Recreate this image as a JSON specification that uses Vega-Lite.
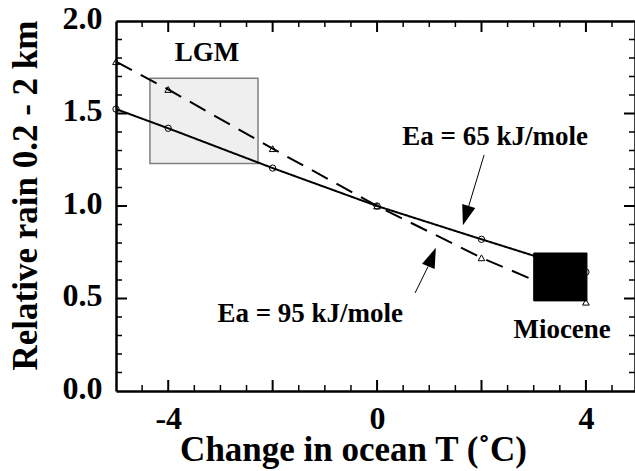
{
  "$schema": "https://vega.github.io/schema/vega-lite/v6.json",
  "autosize": "none",
  "padding": {"left": 116, "top": 21, "right": 0, "bottom": 80},
  "width": 519,
  "height": 370,
  "background": "white",
  "datasets": {
    "curves": [
      {"t": -5, "rain": 1.524, "series": "Ea65"},
      {"t": -4, "rain": 1.42, "series": "Ea65"},
      {"t": -2, "rain": 1.205, "series": "Ea65"},
      {"t": 0, "rain": 1.0, "series": "Ea65"},
      {"t": 2, "rain": 0.82, "series": "Ea65"},
      {"t": 4, "rain": 0.643, "series": "Ea65"},
      {"t": -5, "rain": 1.78, "series": "Ea95"},
      {"t": -4, "rain": 1.63, "series": "Ea95"},
      {"t": -2, "rain": 1.31, "series": "Ea95"},
      {"t": 0, "rain": 1.0, "series": "Ea95"},
      {"t": 2, "rain": 0.72, "series": "Ea95"},
      {"t": 4, "rain": 0.48, "series": "Ea95"}
    ],
    "boxes": [
      {"name": "LGM", "x1": -4.35, "x2": -2.28, "y1": 1.23, "y2": 1.69},
      {"name": "Miocene", "x1": 3.0, "x2": 4.02, "y1": 0.487, "y2": 0.746}
    ],
    "labels": [
      {"text": "LGM", "x": -3.257, "y": 1.784},
      {"text": "Ea = 65 kJ/mole", "x": 2.26, "y": 1.33},
      {"text": "Ea = 95 kJ/mole", "x": -1.28, "y": 0.373},
      {"text": "Miocene", "x": 3.544, "y": 0.286}
    ],
    "arrows": [
      {"x": 2.05, "y": 1.276, "x2": 1.753, "y2": 0.997, "hx": 1.70, "hy": 0.948, "angle": 197},
      {"x": 0.728, "y": 0.53, "x2": 0.977, "y2": 0.673, "hx": 1.054, "hy": 0.724, "angle": 22}
    ],
    "xmajor": [{"v": -4}, {"v": -2}, {"v": 0}, {"v": 2}, {"v": 4}],
    "xminor": [{"v": -4.5}, {"v": -3.5}, {"v": -3}, {"v": -2.5}, {"v": -1.5}, {"v": -1}, {"v": -0.5}, {"v": 0.5}, {"v": 1}, {"v": 1.5}, {"v": 2.5}, {"v": 3}, {"v": 3.5}, {"v": 4.5}],
    "ymajor": [{"v": 0.5}, {"v": 1}, {"v": 1.5}],
    "yminor": [{"v": 0.1}, {"v": 0.2}, {"v": 0.3}, {"v": 0.4}, {"v": 0.6}, {"v": 0.7}, {"v": 0.8}, {"v": 0.9}, {"v": 1.1}, {"v": 1.2}, {"v": 1.3}, {"v": 1.4}, {"v": 1.6}, {"v": 1.7}, {"v": 1.8}, {"v": 1.9}]
  },
  "resolve": {"axis": {"x": "independent", "y": "independent"}},
  "layer": [
    {
      "data": {"name": "boxes"},
      "transform": [{"filter": "datum.name == 'LGM'"}],
      "mark": {"type": "rect", "fill": "#efefef", "stroke": "#808080", "strokeWidth": 1.5},
      "encoding": {
        "x": {"field": "x1", "type": "quantitative", "scale": {"domain": [-5, 4.94], "nice": false, "zero": false},
          "axis": {"orient": "bottom", "values": [-4, 0, 4],
            "ticks": false, "tickSize": 0,
            "labelPadding": 37, "labelBaseline": "alphabetic",
            "labelExpr": "datum.value == -4 ? '-4' : datum.value == 0 ? '0' : '4'",
            "domain": true, "domainWidth": 2.5, "title": "Change in ocean T (˚C)",
            "titleX": 237, "titleY": 69, "titleBaseline": "alphabetic", "titleAlign": "center", "titleAnchor": null}},
        "x2": {"field": "x2"},
        "y": {"field": "y1", "type": "quantitative", "scale": {"domain": [0, 2], "nice": false, "zero": false},
          "axis": {"orient": "left", "values": [0, 0.5, 1, 1.5, 2],
            "ticks": false, "tickSize": 0,
            "labelExpr": "datum.value == 0 ? '0.0' : datum.value == 0.5 ? '0.5' : datum.value == 1 ? '1.0' : datum.value == 1.5 ? '1.5' : '2.0'",
            "labelPadding": 14, "labelBaseline": "alphabetic", "labelOffset": 7, "labelAlign": "right",
            "domain": true, "domainWidth": 2.5, "title": "Relative rain 0.2 - 2 km",
            "titleX": -80, "titleY": 174, "titleAngle": -90, "titleBaseline": "alphabetic", "titleAlign": "center", "titleAnchor": null}},
        "y2": {"field": "y2"}
      }
    },
    {
      "data": {"name": "curves"},
      "mark": {"type": "line", "color": "black", "strokeWidth": 2},
      "encoding": {
        "x": {"field": "t", "type": "quantitative",
          "axis": {"orient": "top", "values": [-4, -2, 0, 2, 4], "ticks": false, "tickSize": 0,
            "labels": false, "domain": true, "domainWidth": 2.5, "title": null}},
        "y": {"field": "rain", "type": "quantitative",
          "axis": {"orient": "right", "values": [0.5, 1, 1.5], "ticks": false, "tickSize": 0,
            "labels": false, "domain": true, "domainWidth": 2.5, "title": null}},
        "strokeDash": {"field": "series", "type": "nominal", "scale": {"domain": ["Ea65", "Ea95"], "range": [[1, 0], [18, 10]]}, "legend": null}
      }
    },
    {
      "data": {"name": "xmajor"},
      "mark": {"type": "rule", "color": "black", "strokeWidth": 2, "y2Offset": -11},
      "encoding": {
        "x": {"field": "v", "type": "quantitative", "axis": null},
        "y": {"datum": 0, "type": "quantitative", "axis": null},
        "y2": {"datum": 0}
      }
    },
    {
      "data": {"name": "xminor"},
      "mark": {"type": "rule", "color": "black", "strokeWidth": 1.5, "y2Offset": -6},
      "encoding": {
        "x": {"field": "v", "type": "quantitative", "axis": null},
        "y": {"datum": 0, "type": "quantitative", "axis": null},
        "y2": {"datum": 0}
      }
    },
    {
      "data": {"name": "xmajor"},
      "mark": {"type": "rule", "color": "black", "strokeWidth": 2, "y2Offset": 11},
      "encoding": {
        "x": {"field": "v", "type": "quantitative", "axis": null},
        "y": {"datum": 2, "type": "quantitative", "axis": null},
        "y2": {"datum": 2}
      }
    },
    {
      "data": {"name": "xminor"},
      "mark": {"type": "rule", "color": "black", "strokeWidth": 1.5, "y2Offset": 6},
      "encoding": {
        "x": {"field": "v", "type": "quantitative", "axis": null},
        "y": {"datum": 2, "type": "quantitative", "axis": null},
        "y2": {"datum": 2}
      }
    },
    {
      "data": {"name": "ymajor"},
      "mark": {"type": "rule", "color": "black", "strokeWidth": 2, "x2Offset": 11},
      "encoding": {
        "y": {"field": "v", "type": "quantitative", "axis": null},
        "x": {"datum": -5, "type": "quantitative", "axis": null},
        "x2": {"datum": -5}
      }
    },
    {
      "data": {"name": "yminor"},
      "mark": {"type": "rule", "color": "black", "strokeWidth": 1.5, "x2Offset": 6},
      "encoding": {
        "y": {"field": "v", "type": "quantitative", "axis": null},
        "x": {"datum": -5, "type": "quantitative", "axis": null},
        "x2": {"datum": -5}
      }
    },
    {
      "data": {"name": "ymajor"},
      "mark": {"type": "rule", "color": "black", "strokeWidth": 2, "x2Offset": -11},
      "encoding": {
        "y": {"field": "v", "type": "quantitative", "axis": null},
        "x": {"datum": 4.94, "type": "quantitative", "axis": null},
        "x2": {"datum": 4.94}
      }
    },
    {
      "data": {"name": "yminor"},
      "mark": {"type": "rule", "color": "black", "strokeWidth": 1.5, "x2Offset": -6},
      "encoding": {
        "y": {"field": "v", "type": "quantitative", "axis": null},
        "x": {"datum": 4.94, "type": "quantitative", "axis": null},
        "x2": {"datum": 4.94}
      }
    },
    {
      "data": {"name": "curves"},
      "transform": [{"filter": "datum.series == 'Ea65'"}],
      "mark": {"type": "point", "shape": "circle", "size": 40, "stroke": "black", "strokeWidth": 1, "filled": false, "opacity": 1},
      "encoding": {
        "x": {"field": "t", "type": "quantitative", "axis": null},
        "y": {"field": "rain", "type": "quantitative", "axis": null}
      }
    },
    {
      "data": {"name": "curves"},
      "transform": [{"filter": "datum.series == 'Ea95'"}],
      "mark": {"type": "point", "shape": "triangle-up", "size": 45, "stroke": "black", "strokeWidth": 1, "filled": false, "opacity": 1},
      "encoding": {
        "x": {"field": "t", "type": "quantitative", "axis": null},
        "y": {"field": "rain", "type": "quantitative", "axis": null}
      }
    },
    {
      "data": {"name": "boxes"},
      "transform": [{"filter": "datum.name == 'Miocene'"}],
      "mark": {"type": "rect", "fill": "black", "stroke": "black", "strokeWidth": 1},
      "encoding": {
        "x": {"field": "x1", "type": "quantitative", "axis": null},
        "x2": {"field": "x2"},
        "y": {"field": "y1", "type": "quantitative", "axis": null},
        "y2": {"field": "y2"}
      }
    },
    {
      "data": {"name": "labels"},
      "mark": {"type": "text", "font": "Liberation Serif", "fontWeight": "bold", "fontSize": 27, "align": "center", "baseline": "alphabetic", "color": "black"},
      "encoding": {
        "x": {"field": "x", "type": "quantitative", "axis": null},
        "y": {"field": "y", "type": "quantitative", "axis": null},
        "text": {"field": "text"}
      }
    },
    {
      "data": {"name": "arrows"},
      "mark": {"type": "rule", "color": "black", "strokeWidth": 1},
      "encoding": {
        "x": {"field": "x", "type": "quantitative", "axis": null},
        "y": {"field": "y", "type": "quantitative", "axis": null},
        "x2": {"field": "x2"},
        "y2": {"field": "y2"}
      }
    },
    {
      "data": {"name": "arrows"},
      "mark": {"type": "point", "shape": "M0,-1L0.68,1L-0.68,1Z", "size": 400, "filled": true, "color": "black", "opacity": 1, "strokeWidth": 0},
      "encoding": {
        "x": {"field": "hx", "type": "quantitative", "axis": null},
        "y": {"field": "hy", "type": "quantitative", "axis": null},
        "angle": {"field": "angle", "type": "quantitative", "scale": null}
      }
    }
  ],
  "config": {
    "view": {"stroke": null},
    "axis": {
      "grid": false,
      "labelFont": "Liberation Serif", "labelFontWeight": "bold", "labelFontSize": 32, "labelColor": "black",
      "titleFont": "Liberation Serif", "titleFontWeight": "bold", "titleFontSize": 35, "titleColor": "black",
      "domainColor": "black", "labelOverlap": false, "labelFlush": false
    }
  }
}
